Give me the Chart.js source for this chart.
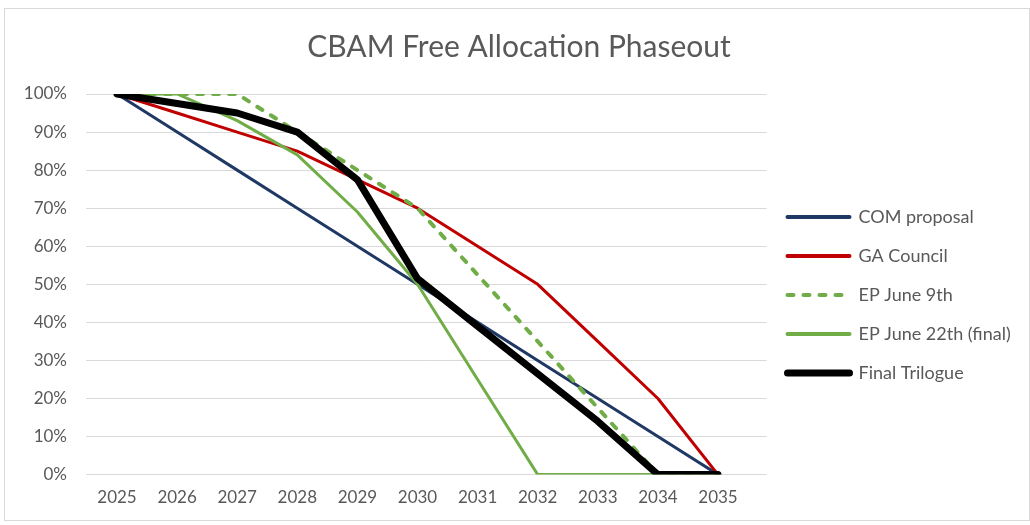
<!DOCTYPE html>
<html>
<head>
<meta charset="utf-8">
<script src="https://cdn.jsdelivr.net/npm/chart.js@4.4.0/dist/chart.umd.min.js"></script>
<style>
  html, body { margin: 0; padding: 0; background: #fff; }
  #wrap { position: relative; width: 1030px; height: 525px; }
  #frame { position: absolute; left: 4px; top: 8px; width: 1024px; height: 511px; border: 1px solid #d9d9d9; pointer-events: none; }
</style>
</head>
<body>
<div id="wrap">
  <canvas id="chart" width="1030" height="525"></canvas>
  <div id="frame"></div>
</div>
<script>
// Data (share of free allocation, %)
const years = [2025, 2026, 2027, 2028, 2029, 2030, 2031, 2032, 2033, 2034, 2035];
const comProposal   = [100, 90, 80, 70, 60, 50, 40, 30, 20, 10, 0];
const gaCouncil     = [100, 95, 90, 85, 77.5, 70, 60, 50, 35, 20, 0];
const epJune9       = [100, 100, 100, 90, 80, 70, 52.5, 35, 17.5, 0, 0];
const epJune22      = [100, 100, 93, 84, 69, 50, 25, 0, 0, 0, 0];
const finalTrilogue = [100, 97.5, 95, 90, 77.5, 51.5, 39, 26.5, 14, 0, 0];

const FONT = 'Lato, "Open Sans", sans-serif';
const TEXT = '#595959';

function line(label, values, color, width, order, dash) {
    return {
        label, order,
        data: years.map((yr, i) => ({ x: yr, y: values[i] })),
        borderColor: color,
        backgroundColor: color,
        borderWidth: width,
        borderDash: dash || [],
        borderCapStyle: 'round',
        borderJoinStyle: 'round',
        pointRadius: 0,
        tension: 0,
        fill: false
    };
}

const datasets = [
    line('COM proposal', comProposal, '#1f3864', 3, 4),
    line('GA Council', gaCouncil, '#c00000', 3, 3),
    line('EP June 9th', epJune9, '#70ad47', 4, 2, [6, 10]),
    line('EP June 22th (final)', epJune22, '#70ad47', 3, 1),
    line('Final Trilogue', finalTrilogue, '#000000', 7, 0)
];

function draw() {
    new Chart(document.getElementById('chart'), {
        type: 'line',
        data: { datasets },
        options: {
            responsive: false,
            devicePixelRatio: 1,
            animation: false,
            layout: { padding: { left: 24, right: 16, top: 0, bottom: 4 } },
            plugins: {
                title: {
                    display: true,
                    text: 'CBAM Free Allocation Phaseout',
                    color: TEXT,
                    font: { family: FONT, size: 30, weight: 'normal' },
                    padding: { top: 29, bottom: 29 }
                },
                legend: {
                    position: 'right',
                    align: 'center',
                    // empty title only pushes the entries down
                    title: { display: true, text: ' ', font: { size: 10 }, padding: { top: 57, bottom: 0 } },
                    labels: {
                        usePointStyle: true,
                        pointStyleWidth: 62,
                        padding: 21,
                        color: TEXT,
                        font: { family: FONT, size: 18 },
                        generateLabels: chart => chart.data.datasets.map((ds, i) => ({
                            text: ds.label,
                            fillStyle: ds.borderColor,
                            strokeStyle: ds.borderColor,
                            lineWidth: ds.borderWidth === 7 ? 7 : 4,
                            lineDash: ds.borderDash,
                            lineCap: 'round',
                            pointStyle: 'line',
                            fontColor: TEXT,
                            hidden: false,
                            datasetIndex: i
                        }))
                    }
                },
                tooltip: { enabled: false }
            },
            scales: {
                x: {
                    type: 'linear',
                    min: 2024.484,
                    max: 2035.807,
                    grid: { display: false, drawTicks: false },
                    border: { display: false },
                    ticks: {
                        stepSize: 1,
                        includeBounds: false,
                        autoSkip: false,
                        maxRotation: 0,
                        color: TEXT,
                        padding: 13,
                        font: { family: FONT, size: 17 },
                        callback: v => String(v)
                    }
                },
                y: {
                    min: 0,
                    max: 100,
                    afterFit: s => { s.width = 62; },
                    grid: { color: '#d9d9d9', drawTicks: false },
                    border: { display: false },
                    ticks: {
                        stepSize: 10,
                        color: TEXT,
                        padding: 19,
                        font: { family: FONT, size: 17 },
                        callback: v => v + '%'
                    }
                }
            }
        }
    });
}

document.fonts.load('17px Lato').then(draw, draw);
</script>
</body>
</html>
